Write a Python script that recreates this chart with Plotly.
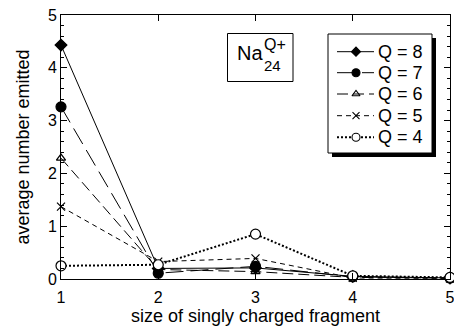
import plotly.graph_objects as go

# ---- data ----
sizes = [1, 2, 3, 4, 5]
q8 = [4.43, 0.20, 0.21, 0.05, 0.02]
q7 = [3.26, 0.11, 0.24, 0.04, 0.02]
q6 = [2.29, 0.18, 0.14, 0.03, 0.02]
q5 = [1.37, 0.33, 0.39, 0.02, 0.01]
q4 = [0.25, 0.27, 0.85, 0.06, 0.03]
series_names = ["Q = 8", "Q = 7", "Q = 6", "Q = 5", "Q = 4"]
x_ticks = [1, 2, 3, 4, 5]
y_ticks = [0, 1, 2, 3, 4, 5]

W, H = 454, 328
L, R, T, B = 61, 4, 15, 49
PW, PH = W - L - R, H - T - B
FONT = "Liberation Sans, Arial, sans-serif"


def px(xp):
    return (xp - L) / PW


def py(yp):
    return (H - B - yp) / PH


styles = [
    dict(dash="solid", width=1, symbol="diamond", size=9, fill="black", ksize=7),
    dict(dash="18px,7px", width=1, symbol="circle", size=10, fill="black", ksize=8),
    dict(dash="11px,5px", width=1, symbol="triangle-up-open", size=8, fill="black", ksize=7),
    dict(dash="5px,4px", width=1, symbol="x-thin-open", size=8, fill="black", ksize=7),
    dict(dash="2px,2px", width=2, symbol="circle", size=10, fill="white", ksize=8),
]

fig = go.Figure()
for name, vals, st in zip(series_names, [q8, q7, q6, q5, q4], styles):
    fig.add_trace(go.Scatter(
        x=sizes, y=vals, name=name, mode="lines+markers", showlegend=False,
        line=dict(color="black", width=st["width"], dash=st["dash"]),
        marker=dict(symbol=st["symbol"], size=st["size"], color=st["fill"],
                    line=dict(color="black", width=1.2)),
        cliponaxis=False,
    ))

# ---- hand-drawn legend box (with drop shadow) ----
lx0, ly0, lx1, ly1 = 328, 34, 432, 153
fig.add_shape(type="rect", xref="paper", yref="paper",
              x0=px(lx0 + 4), x1=px(lx1 + 4), y0=py(ly1 + 4), y1=py(ly0 + 4),
              fillcolor="black", line=dict(width=0), layer="below")
fig.add_shape(type="rect", xref="paper", yref="paper",
              x0=px(lx0), x1=px(lx1), y0=py(ly1), y1=py(ly0),
              fillcolor="white", line=dict(color="black", width=1), layer="below")

row_y = [51.7, 72.7, 94.0, 115.7, 137.3]
key_x0, key_xm, key_x1, text_x = 337, 356, 374, 376
for name, st, ry in zip(series_names, styles, row_y):
    # legend key drawn on a pixel-scaled overlay axis
    fig.add_trace(go.Scatter(
        x=[key_x0, key_x1], y=[ry, ry], mode="lines", xaxis="x2", yaxis="y2",
        showlegend=False, hoverinfo="skip", cliponaxis=False,
        line=dict(color="black", width=st["width"], dash=st["dash"])))
    fig.add_trace(go.Scatter(
        x=[key_xm], y=[ry], mode="markers", xaxis="x2", yaxis="y2",
        showlegend=False, hoverinfo="skip", cliponaxis=False,
        marker=dict(symbol=st["symbol"], size=st["ksize"], color=st["fill"],
                    line=dict(color="black", width=1.1))))
    fig.add_annotation(x=px(text_x), y=py(ry), xref="paper", yref="paper", text=name,
                       xanchor="left", yanchor="middle", showarrow=False,
                       font=dict(size=18, color="black", family=FONT))

# ---- Na label box ----
fig.add_shape(type="rect", xref="paper", yref="paper",
              x0=px(227.5), x1=px(293), y0=py(81.5), y1=py(33.5),
              fillcolor="white", line=dict(color="black", width=1), layer="below")
for txt, cx, cy, fs in [("Na", 249.5, 53, 20), ("Q+", 274.5, 44, 16), ("24", 272, 65, 15)]:
    fig.add_annotation(x=px(cx), y=py(cy), xref="paper", yref="paper", text=txt,
                       xanchor="center", yanchor="middle", showarrow=False,
                       font=dict(size=fs, color="black", family=FONT))

axis_common = dict(showline=True, linecolor="black", linewidth=1, mirror="ticks",
                   ticks="inside", ticklen=6, tickcolor="black", tickwidth=1,
                   showgrid=False, zeroline=False, ticklabeloverflow="allow",
                   tickfont=dict(size=16, color="black", family=FONT))

fig.update_layout(
    xaxis=dict(range=[1, 5], tickvals=x_ticks, ticktext=[str(v) for v in x_ticks],
               ticklabelstandoff=4,
               title=dict(text="size of singly charged fragment",
                          font=dict(size=18, color="black", family=FONT), standoff=1),
               **axis_common),
    yaxis=dict(range=[0, 5], tickvals=y_ticks, ticktext=[str(v) for v in y_ticks],
               title=dict(text="average number emitted",
                          font=dict(size=18, color="black", family=FONT), standoff=13),
               minor=dict(ticks="inside", ticklen=3, dtick=0.2, tickcolor="black", showgrid=False),
               **axis_common),
    xaxis2=dict(overlaying="x", range=[L, W - R], visible=False, fixedrange=True),
    yaxis2=dict(overlaying="y", range=[H - B, T], visible=False, fixedrange=True),
    width=W, height=H, margin=dict(l=L, r=R, t=T, b=B, autoexpand=False),
    plot_bgcolor="white", paper_bgcolor="white",
    font=dict(family=FONT, color="black"),
    showlegend=False,
)

fig.write_html("out.html", config={"displayModeBar": False},
               post_script="document.body.style.margin='0';")
